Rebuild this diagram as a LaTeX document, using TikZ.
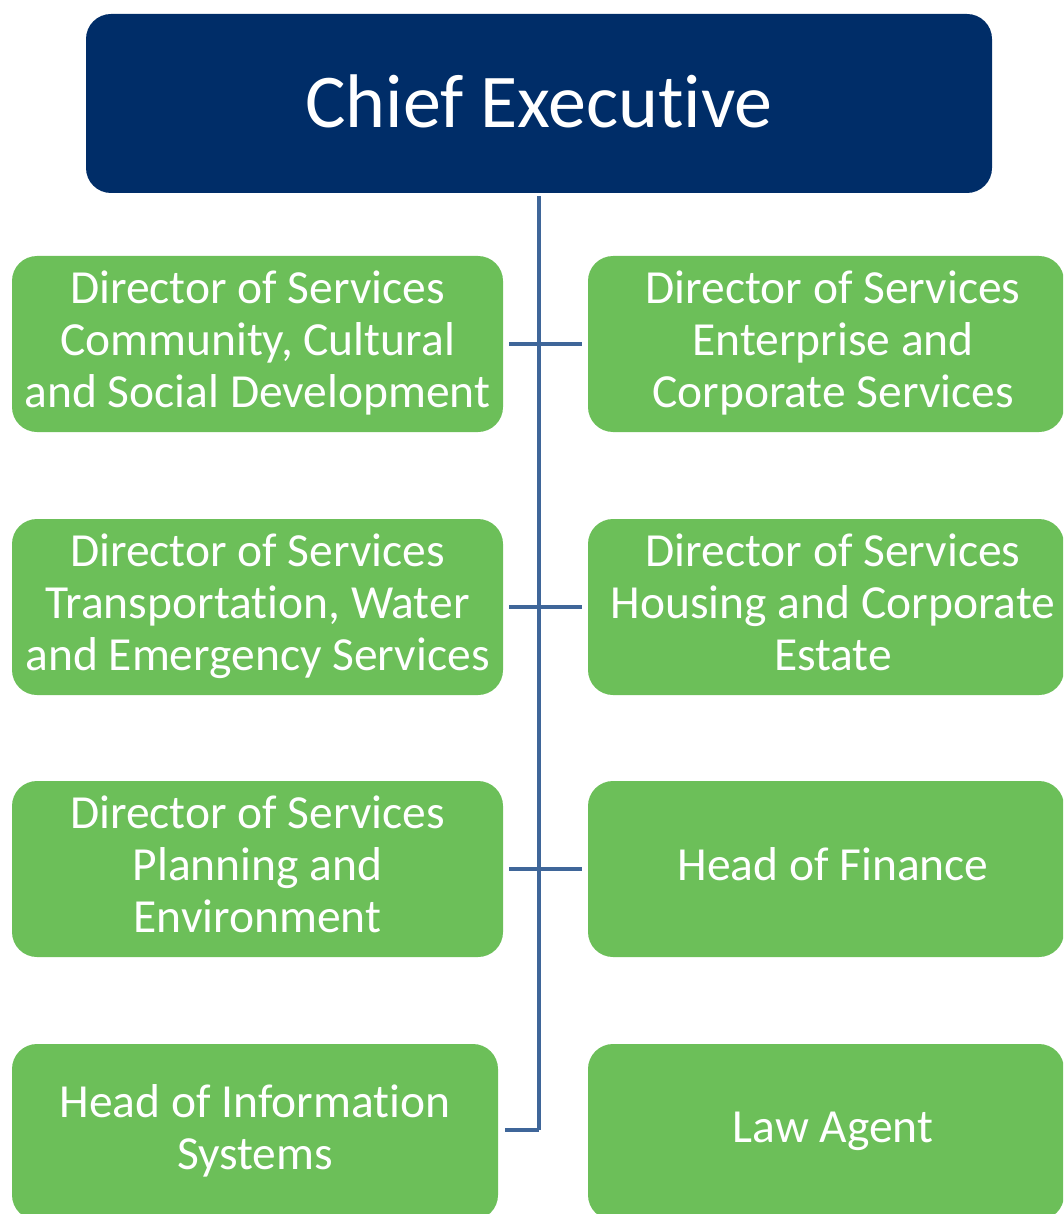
\documentclass[tikz,border=0pt]{standalone}
\usepackage{fontspec}
\setmainfont[Ligatures=NoCommon]{Carlito}
\definecolor{navy}{RGB}{0,45,104}
\definecolor{leaf}{RGB}{108,191,89}
\definecolor{wire}{RGB}{63,102,153}
\newcommand\rsft{\hspace*{14pt}}
\begin{document}
\begin{tikzpicture}[x=1pt,y=-1pt,
  chiefbox/.style={fill=navy,rounded corners=25pt,minimum width=906pt,minimum height=179pt,inner sep=0pt,
    text=white,font=\fontsize{76}{84}\selectfont},
  unitbox/.style={fill=leaf,rounded corners=25pt,minimum height=176pt,inner sep=0pt,text depth=10pt,
    text=white,align=center,font=\fontsize{47.5}{52}\selectfont},
  leftbox/.style={unitbox,minimum width=491pt},
  rightbox/.style={unitbox,minimum width=476pt},
  link/.style={draw=wire,line width=3.6pt}]
\useasboundingbox (0,0) rectangle (1063,1214);
\begin{scope}
\clip (0,0) rectangle (1063,1214);
\node[chiefbox] (ceo) at (539,103.5) {\raisebox{4pt}{Chief Executive}};
\node[leftbox] (l1) at (257.5,344) {Director of Services\\Community, Cultural\\and Social Development};
\node[rightbox] (r1) at (826,344) {\rsft Director of Services\\\rsft Enterprise and\\\rsft Corporate Services};
\node[leftbox] (l2) at (257.5,607) {Director of Services\\Transportation, Water\\and Emergency Services};
\node[rightbox] (r2) at (826,607) {\rsft Director of Services\\\rsft Housing and Corporate\\\rsft Estate};
\node[leftbox] (l3) at (257.5,869) {Director of Services\\Planning and\\Environment};
\node[rightbox] (r3) at (826,869) {\rsft Head of Finance};
\node[leftbox,minimum width=486pt] (l4) at (255,1132) {Head of Information\\Systems};
\node[rightbox] (r4) at (826,1132) {\rsft Law Agent};
\coordinate (bend) at (539,1130);
\draw[link] ([yshift=-3pt]ceo.south) -- (bend);
\draw[link,shorten <=6pt,shorten >=6pt] (l1.east) -- (r1.west);
\draw[link,shorten <=6pt,shorten >=6pt] (l2.east) -- (r2.west);
\draw[link,shorten <=6pt,shorten >=6pt] (l3.east) -- (r3.west);
\draw[link,shorten <=7pt] (l4.east |- bend) -- (bend);
\end{scope}
\end{tikzpicture}
\end{document}
